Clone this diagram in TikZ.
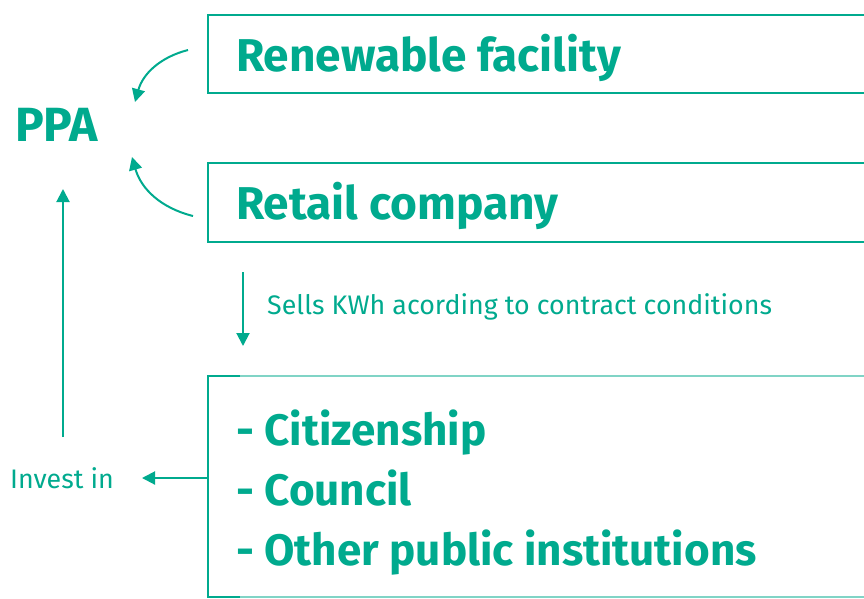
\documentclass[tikz,border=0pt]{standalone}
\usepackage{fontspec}
\setmainfont{Fira Sans}
\usetikzlibrary{arrows.meta}
\definecolor{teal}{RGB}{0,170,142}
\definecolor{lightteal}{RGB}{128,212,198}
\tikzset{
  box/.style={draw=teal,line width=2pt},
  conn/.style={draw=teal,line width=2pt,-{Triangle[length=13pt,width=13pt]}},
  big/.style={text=teal,font=\fontsize{46}{50}\selectfont\bfseries,anchor=base west,inner sep=0pt},
  listitem/.style={text=teal,font=\fontsize{44}{50}\selectfont\bfseries,anchor=base west,inner sep=0pt},
  small/.style={text=teal,font=\fontsize{26.8}{30}\selectfont,anchor=base west,inner sep=0pt},
}
\begin{document}
\begin{tikzpicture}[x=1pt,y=-1pt]
\useasboundingbox (0,0) rectangle (864,598);
\draw[box] (208,15) rectangle (880,93);
\draw[box] (208,163) rectangle (880,242);
\draw[draw=lightteal,line width=2pt] (240,376) -- (880,376);
\draw[draw=lightteal,line width=2pt] (240,597) -- (880,597);
\draw[draw=teal,line width=2pt] (240,376) -- (208,376) -- (208,597) -- (240,597);
\node[big] (ren) at (236,71) {Renewable facility};
\node[big] (ret) at (236,219) {Retail company};
\node[big,font=\fontsize{48}{50}\selectfont\bfseries] (ppa) at (15,141) {PPA};
\node[listitem] (l1) at (236,445) {- Citizenship};
\node[listitem] (l2) at (236,505) {- Council};
\node[listitem] (l3) at (236,565) {- Other public institutions};
\node[small] (sells) at (267,314) {Sells KWh acording to contract conditions};
\node[small] (inv) at (10,488) {Invest in};
\coordinate (a1s) at (188,50);
\coordinate (a1e) at (135,102);
\coordinate (a2s) at (193,216);
\coordinate (a2e) at (132,157);
\coordinate (upb) at (63,437);
\coordinate (upt) at (63,189);
\coordinate (dnt) at (243,272);
\coordinate (dnb) at (243,346);
\coordinate (lft) at (208,478);
\coordinate (lfe) at (142,478);
\draw[conn] (a1s) to[bend right=30] (a1e);
\draw[conn] (a2s) to[bend left=30] (a2e);
\draw[conn] (upb) -- (upt);
\draw[conn] (dnt) -- (dnb);
\draw[conn] (lft) -- (lfe);
\end{tikzpicture}
\end{document}
